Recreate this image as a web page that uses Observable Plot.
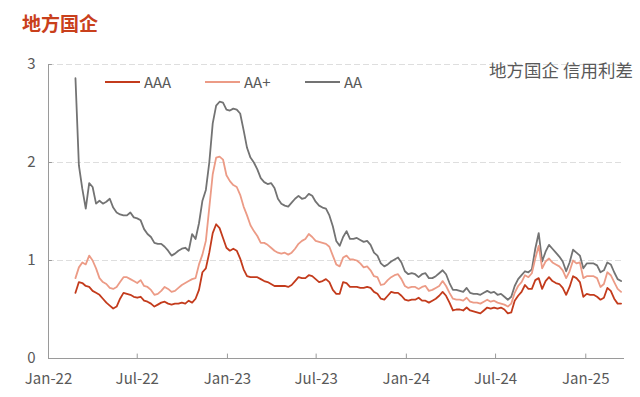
<!DOCTYPE html>
<html><head><meta charset="utf-8">
<script src="https://cdn.jsdelivr.net/npm/d3@7"></script>
<script src="https://cdn.jsdelivr.net/npm/@observablehq/plot@0.6"></script>
<style>
body{margin:0;background:#fff;}
#wrap{position:relative;width:640px;height:397px;overflow:hidden;font-family:"Noto Sans CJK SC","Noto Sans",sans-serif;color:#595959;}
#chart{position:absolute;left:0;top:0;}
#title{position:absolute;left:22px;top:12px;font-size:19px;font-weight:bold;color:#c9401c;line-height:1.2;}
.leg{position:absolute;top:73px;display:flex;align-items:center;font-size:15px;line-height:18px;}
.leg i{display:inline-block;width:35px;height:2px;margin-right:4px;}
#note{position:absolute;right:7px;top:59px;font-size:17.5px;line-height:22px;}
</style></head><body>
<div id="wrap">
  <div id="chart"></div>
  <div id="title">地方国企</div>
  <div id="legend"></div>
  <div id="note">地方国企 信用利差</div>
</div>
<script>
// ---- data ----
const firstWeek = "2022-02-25"; // weekly observations
const seriesNames = ["AAA", "AA+", "AA"];
const seriesColors = ["#c33b1c", "#ec9b86", "#737373"];
const xTickDates = ["2022-01-01","2022-07-01","2023-01-01","2023-07-01","2024-01-01","2024-07-01","2025-01-01"];
const xTickLabels = ["Jan-22","Jul-22","Jan-23","Jul-23","Jan-24","Jul-24","Jan-25"];
const yTicks = [0, 1, 2, 3];
const yTickLabels = ["0", "1", "2", "3"];

const AAA = [0.67,0.78,0.77,0.74,0.73,0.69,0.67,0.65,0.61,0.57,0.54,0.51,0.53,0.61,0.67,0.66,0.65,0.63,0.62,0.63,
0.59,0.58,0.56,0.53,0.55,0.57,0.58,0.56,0.55,0.56,0.56,0.57,0.56,0.59,0.57,0.61,0.70,0.88,0.92,1.08,
1.28,1.37,1.33,1.23,1.13,1.10,1.12,1.10,1.02,0.91,0.84,0.83,0.83,0.83,0.81,0.79,0.78,0.76,0.74,0.74,
0.74,0.74,0.73,0.75,0.79,0.83,0.82,0.82,0.85,0.84,0.81,0.78,0.79,0.81,0.78,0.70,0.66,0.66,0.78,0.77,
0.73,0.73,0.73,0.72,0.72,0.73,0.72,0.68,0.66,0.61,0.60,0.64,0.68,0.67,0.67,0.64,0.60,0.59,0.60,0.60,
0.62,0.59,0.59,0.57,0.59,0.61,0.64,0.68,0.64,0.57,0.49,0.50,0.50,0.49,0.52,0.49,0.48,0.47,0.46,0.49,
0.52,0.51,0.52,0.51,0.52,0.50,0.46,0.47,0.59,0.64,0.68,0.75,0.71,0.71,0.80,0.82,0.71,0.79,0.83,0.79,
0.77,0.76,0.72,0.65,0.73,0.84,0.82,0.78,0.63,0.66,0.65,0.65,0.63,0.60,0.62,0.72,0.69,0.61,0.56,0.56];

const AAplus = [0.82,0.93,0.98,0.96,1.05,1.00,0.92,0.82,0.78,0.76,0.72,0.71,0.73,0.78,0.83,0.83,0.81,0.79,0.77,0.80,
0.74,0.73,0.70,0.65,0.66,0.69,0.73,0.71,0.68,0.69,0.72,0.75,0.77,0.79,0.81,0.82,0.96,1.06,1.20,1.54,
1.88,2.05,2.06,2.03,1.87,1.81,1.77,1.75,1.67,1.55,1.46,1.36,1.30,1.25,1.18,1.18,1.16,1.13,1.10,1.08,
1.07,1.08,1.06,1.08,1.12,1.17,1.20,1.22,1.27,1.24,1.20,1.19,1.18,1.17,1.14,1.05,0.96,0.94,1.03,1.05,
1.01,1.01,1.00,0.97,0.93,0.94,0.90,0.84,0.83,0.75,0.76,0.80,0.83,0.85,0.86,0.81,0.74,0.72,0.73,0.73,
0.71,0.73,0.74,0.69,0.70,0.72,0.74,0.79,0.74,0.67,0.61,0.60,0.60,0.59,0.62,0.58,0.57,0.57,0.56,0.58,
0.60,0.58,0.59,0.57,0.56,0.55,0.53,0.56,0.67,0.74,0.78,0.85,0.83,0.87,1.02,1.15,0.92,0.99,1.02,0.98,
0.96,0.94,0.90,0.82,0.89,1.00,0.97,0.98,0.82,0.84,0.84,0.84,0.82,0.73,0.76,0.88,0.85,0.78,0.71,0.68];

const AA = [2.86,1.97,1.73,1.53,1.79,1.75,1.58,1.61,1.58,1.60,1.63,1.54,1.49,1.47,1.46,1.46,1.49,1.44,1.43,1.41,
1.32,1.27,1.24,1.18,1.17,1.17,1.14,1.10,1.05,1.07,1.10,1.12,1.13,1.10,1.27,1.22,1.38,1.61,1.72,2.00,
2.40,2.58,2.62,2.61,2.54,2.53,2.55,2.54,2.50,2.33,2.15,2.05,2.00,1.93,1.84,1.80,1.78,1.79,1.74,1.63,
1.58,1.56,1.55,1.59,1.63,1.66,1.63,1.64,1.68,1.66,1.60,1.56,1.54,1.53,1.46,1.35,1.20,1.15,1.24,1.30,
1.22,1.22,1.23,1.21,1.19,1.20,1.16,1.08,1.05,0.97,0.94,0.96,0.99,1.01,1.03,0.98,0.89,0.86,0.87,0.86,
0.83,0.86,0.87,0.82,0.82,0.84,0.87,0.90,0.86,0.77,0.70,0.70,0.69,0.68,0.72,0.67,0.66,0.66,0.65,0.67,
0.69,0.67,0.68,0.65,0.66,0.63,0.60,0.63,0.74,0.81,0.85,0.89,0.88,0.91,1.12,1.28,0.99,1.09,1.16,1.12,
1.08,1.04,0.99,0.89,0.98,1.11,1.08,1.05,0.92,0.97,0.97,0.97,0.95,0.88,0.90,0.98,0.96,0.88,0.81,0.79];

// ---- build table ----
const seriesValues = {"AAA": AAA, "AA+": AAplus, "AA": AA};
const start = new Date(firstWeek);
const rows = [];
for (const name of ["AA", "AA+", "AAA"]) {
  seriesValues[name].forEach((v, i) => rows.push({series: name, date: d3.utcDay.offset(start, 7 * i), value: v}));
}
const tickDates = xTickDates.map(d => new Date(d));
const xStart = new Date("2022-01-01");
const xEnd = new Date("2025-03-21");
const axisColor = "#9a9a9a";

const chart = Plot.plot({
  width: 640, height: 397,
  marginTop: 64, marginBottom: 39, marginLeft: 48, marginRight: 16,
  style: {fontFamily: '"Noto Sans CJK SC","Noto Sans",sans-serif', fontSize: "15px", color: "#595959", background: "transparent"},
  x: {type: "utc", domain: [xStart, xEnd], label: null},
  y: {domain: [0, 3], label: null},
  color: {domain: seriesNames, range: seriesColors},
  marks: [
    Plot.ruleY(yTicks.filter(d => d > 0), {stroke: "#dedede", strokeDasharray: "6,3"}),
    Plot.ruleY([0], {stroke: axisColor}),
    Plot.ruleX([xStart], {y1: 0, y2: 3, stroke: axisColor}),
    Plot.ruleY(yTicks, {x1: xStart, x2: d3.utcDay.offset(xStart, 8), stroke: axisColor}),
    Plot.ruleX(tickDates, {y1: 0, y2: 0.045, stroke: axisColor}),
    Plot.axisX({ticks: tickDates, tickFormat: d => xTickLabels[tickDates.findIndex(t => +t === +d)], tickSize: 0, tickPadding: 15, fill: "#595959", fontSize: 15, label: null}),
    Plot.axisY({ticks: yTicks, tickFormat: d => yTickLabels[yTicks.indexOf(d)], tickSize: 0, tickPadding: 13, fill: "#595959", fontSize: 15, label: null}),
    Plot.lineY(rows, {x: "date", y: "value", z: "series", stroke: "series", strokeWidth: 1.8, curve: "linear"})
  ]
});
document.getElementById("chart").appendChild(chart);

// legend
const legend = document.getElementById("legend");
const legLeft = [105, 205, 305];
seriesNames.forEach((name, i) => {
  const el = document.createElement("div");
  el.className = "leg";
  el.style.left = legLeft[i] + "px";
  el.innerHTML = `<i style="background:${seriesColors[i]}"></i><span>${name}</span>`;
  legend.appendChild(el);
});
</script>
</body></html>
